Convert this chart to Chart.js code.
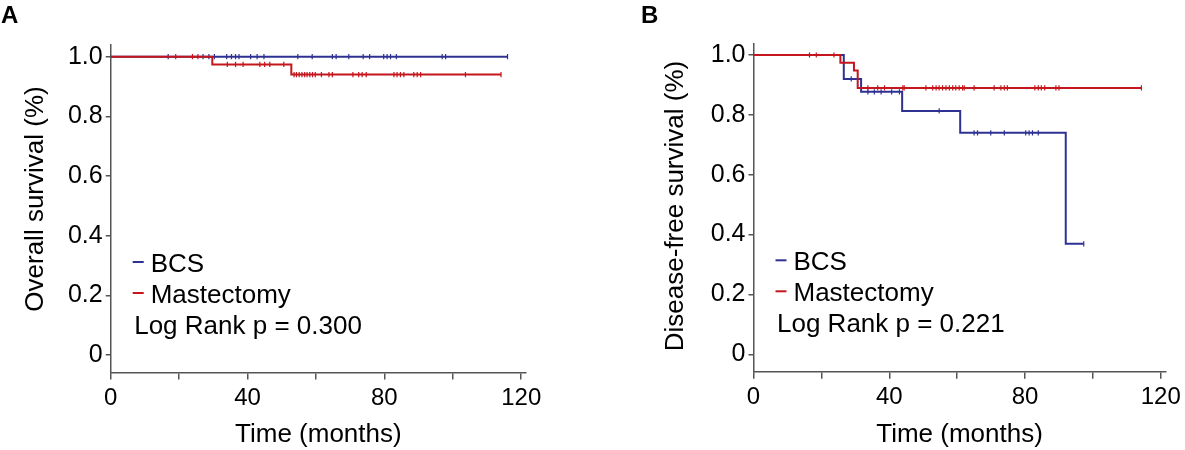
<!DOCTYPE html>
<html>
<head>
<meta charset="utf-8">
<script src="https://cdn.jsdelivr.net/npm/chart.js@4.4.0/dist/chart.umd.min.js"></script>
<style>
  html, body { margin: 0; padding: 0; background: #fff; }
  #wrap { position: relative; width: 1185px; height: 450px; }
  .panel { position: absolute; top: 0; height: 450px; }
  #panelA { left: 0; width: 592px; }
  #panelB { left: 640px; width: 545px; }
</style>
</head>
<body>
<div id="wrap">
  <div class="panel" id="panelA"><canvas id="chartA"></canvas></div>
  <div class="panel" id="panelB"><canvas id="chartB"></canvas></div>
</div>
<script>
// Serie e colori
var seriesNames = ["BCS", "Mastectomy"];
var seriesColors = ["#2e3192", "#c4161c"];

// Assi
var xTickValues = [0, 20, 40, 60, 80, 100, 120];
var xTickLabels = ["0", "", "40", "", "80", "", "120"];
var yTickValues = [0, 0.2, 0.4, 0.6, 0.8, 1.0];
var yTickLabels = ["0", "0.2", "0.4", "0.6", "0.8", "1.0"];

// A - Overall survival: tempi degli eventi (mesi) e sopravvivenza dopo l'evento
var osBcsTimes = [0, 116.0];
var osBcsSurv = [1.0, 1.0];
var osMastTimes = [0, 29.7, 52.8, 114.1];
var osMastSurv = [1.0, 0.974, 0.940, 0.940];
// osservazioni censurate
var osBcsCensor = [16.8, 27.0, 28.7, 30.3, 33.9, 35.3, 36.5, 37.5, 40.9, 42.8, 44.8, 54.7, 58.9, 64.8, 65.9, 69.6,
  73.8, 75.7, 79.8, 80.8, 81.8, 83.5, 96.9, 97.9, 116.0];
var osMastCensor = [19.0, 23.9, 25.5, 34.1, 36.5, 38.7, 43.6, 45.0, 46.5, 50.6, 53.6, 54.3, 55.1, 55.9, 56.7, 57.4,
  58.2, 59.0, 59.8, 61.6, 63.8, 64.8, 70.8, 72.5, 73.5, 74.7, 82.8, 83.7, 84.7, 85.7, 88.6, 89.6, 90.6, 103.7, 114.1];

// B - Disease-free survival
var dfsBcsTimes = [0, 26.6, 31.7, 43.8, 60.9, 92.0, 97.3];
var dfsBcsSurv = [1.0, 0.920, 0.877, 0.813, 0.740, 0.369, 0.369];
var dfsMastTimes = [0, 25.6, 29.6, 30.7, 114.3];
var dfsMastSurv = [1.0, 0.974, 0.948, 0.890, 0.890];
var dfsBcsCensor = [16.5, 28.8, 33.7, 35.6, 37.6, 40.7, 43.0, 54.7, 65.0, 66.0, 69.9, 73.9, 80.2, 81.2, 82.2, 83.9, 97.3];
var dfsMastCensor = [18.5, 23.7, 33.7, 36.6, 38.6, 44.0, 44.4, 50.8, 52.8, 53.8, 54.7, 55.7, 56.7, 57.7, 58.7, 59.6,
  60.6, 61.6, 62.1, 65.0, 70.9, 72.9, 73.9, 74.8, 82.9, 83.9, 84.8, 85.8, 89.1, 90.0, 114.3];

var FONT = '"Liberation Sans", Arial, sans-serif';
var AXIS_COLOR = "#555555";

// curva a gradini
function curve(times, surv) {
  return times.map(function (t, i) { return { x: t, y: surv[i] }; });
}

// valore della curva al tempo t (per posizionare le censure)
function survAt(times, surv, t) {
  var s = surv[0];
  for (var i = 0; i < times.length; i++) {
    if (times[i] <= t) s = surv[i];
  }
  return s;
}

function censorPoints(censor, times, surv) {
  return censor.map(function (t) { return { x: t, y: survAt(times, surv, t) }; });
}

// lettera del pannello, titolo asse y, legenda e p-value
var kmNotes = {
  id: "kmNotes",
  afterDraw: function (chart, args, opts) {
    var ctx = chart.ctx;
    var area = chart.chartArea;
    ctx.save();
    ctx.fillStyle = "#000";
    ctx.textBaseline = "alphabetic";
    ctx.font = "bold 24px " + FONT;
    ctx.fillText(opts.letter, 1, 23);

    // titolo asse y
    ctx.save();
    ctx.translate(opts.yTitleX, opts.yTitleY);
    ctx.rotate(-Math.PI / 2);
    ctx.font = "26px " + FONT;
    ctx.textAlign = "center";
    ctx.textBaseline = "middle";
    ctx.fillText(opts.yTitle, 0, 0);
    ctx.restore();

    ctx.font = "26px " + FONT;
    for (var i = 0; i < seriesNames.length; i++) {
      var base = area.top + opts.legendTop + i * 31;
      ctx.strokeStyle = seriesColors[i];
      ctx.lineWidth = 2;
      ctx.beginPath();
      ctx.moveTo(area.left + 22, base - 9.5);
      ctx.lineTo(area.left + 33, base - 9.5);
      ctx.stroke();
      ctx.fillText(seriesNames[i], area.left + 40, base);
    }
    ctx.fillText(opts.note, area.left + 23.5, area.top + opts.legendTop + 62);
    ctx.restore();
  }
};

function makeChart(id, cfg) {
  var bcsLine = curve(cfg.bcsTimes, cfg.bcsSurv);
  var mastLine = curve(cfg.mastTimes, cfg.mastSurv);
  var lineStyle = { stepped: "before", pointRadius: 0, borderWidth: 2, fill: false, borderCapStyle: "butt" };
  var censorStyle = { showLine: false, pointStyle: "line", rotation: 90, pointRadius: 2.6, borderWidth: 1.2 };

  return new Chart(id, {
    type: "line",
    data: {
      datasets: [
        Object.assign({ label: "Mastectomy", data: mastLine, borderColor: seriesColors[1], order: 1 }, lineStyle),
        Object.assign({ label: "BCS", data: bcsLine, borderColor: seriesColors[0], order: 3 }, lineStyle),
        Object.assign({ label: "Mastectomy censored", data: censorPoints(cfg.mastCensor, cfg.mastTimes, cfg.mastSurv),
          borderColor: seriesColors[1], backgroundColor: seriesColors[1], order: 0 }, censorStyle),
        Object.assign({ label: "BCS censored", data: censorPoints(cfg.bcsCensor, cfg.bcsTimes, cfg.bcsSurv),
          borderColor: seriesColors[0], backgroundColor: seriesColors[0], order: 2 }, censorStyle)
      ]
    },
    options: {
      responsive: true,
      maintainAspectRatio: false,
      animation: false,
      layout: { padding: { top: cfg.padTop, right: cfg.padRight, left: 0, bottom: 0 } },
      plugins: {
        legend: { display: false },
        tooltip: { enabled: false },
        kmNotes: { letter: cfg.letter, note: cfg.note, legendTop: 226.5,
          yTitle: cfg.yTitle, yTitleX: 36, yTitleY: cfg.yTitleY }
      },
      scales: {
        x: {
          type: "linear",
          min: 0,
          max: 121.4,
          afterFit: function (scale) { scale.height = cfg.xAxisHeight; },
          afterBuildTicks: function (scale) {
            scale.ticks = xTickValues.map(function (v) { return { value: v }; });
          },
          ticks: {
            autoSkip: false,
            maxRotation: 0,
            padding: 4,
            color: "#000",
            font: { family: FONT, size: 24 },
            callback: function (value) { return xTickLabels[xTickValues.indexOf(value)]; }
          },
          grid: { drawOnChartArea: false, drawTicks: true, tickLength: 7, color: AXIS_COLOR, lineWidth: 1.5 },
          border: { display: true, color: AXIS_COLOR, width: 1.5 },
          title: {
            display: true,
            text: "Time (months)",
            color: "#000",
            font: { family: FONT, size: 26 },
            padding: { top: 0, bottom: 0 }
          }
        },
        y: {
          min: -0.058,
          max: 1.039,
          afterFit: function (scale) { scale.width = cfg.yAxisWidth; },
          afterBuildTicks: function (scale) {
            scale.ticks = yTickValues.map(function (v) { return { value: v }; });
          },
          ticks: {
            autoSkip: false,
            padding: 3,
            color: "#000",
            font: { family: FONT, size: 25 },
            callback: function (value) { return yTickLabels[yTickValues.indexOf(value)]; }
          },
          grid: { drawOnChartArea: false, drawTicks: true, tickLength: 5, color: AXIS_COLOR, lineWidth: 1.5 },
          border: { display: true, color: AXIS_COLOR, width: 1.5 }
        }
      }
    },
    plugins: [kmNotes]
  });
}

makeChart("chartA", {
  letter: "A",
  yTitle: "Overall survival (%)",
  yTitleY: 199,
  note: "Log Rank p = 0.300",
  bcsTimes: osBcsTimes, bcsSurv: osBcsSurv, bcsCensor: osBcsCensor,
  mastTimes: osMastTimes, mastSurv: osMastSurv, mastCensor: osMastCensor,
  padTop: 45, padRight: 66, yAxisWidth: 110.7, xAxisHeight: 77.5
});

makeChart("chartB", {
  letter: "B",
  yTitle: "Disease-free survival (%)",
  yTitleY: 206,
  note: "Log Rank p = 0.221",
  bcsTimes: dfsBcsTimes, bcsSurv: dfsBcsSurv, bcsCensor: dfsBcsCensor,
  mastTimes: dfsMastTimes, mastSurv: dfsMastSurv, mastCensor: dfsMastCensor,
  padTop: 43.3, padRight: 17.3, yAxisWidth: 113.5, xAxisHeight: 78.3
});
</script>
</body>
</html>
